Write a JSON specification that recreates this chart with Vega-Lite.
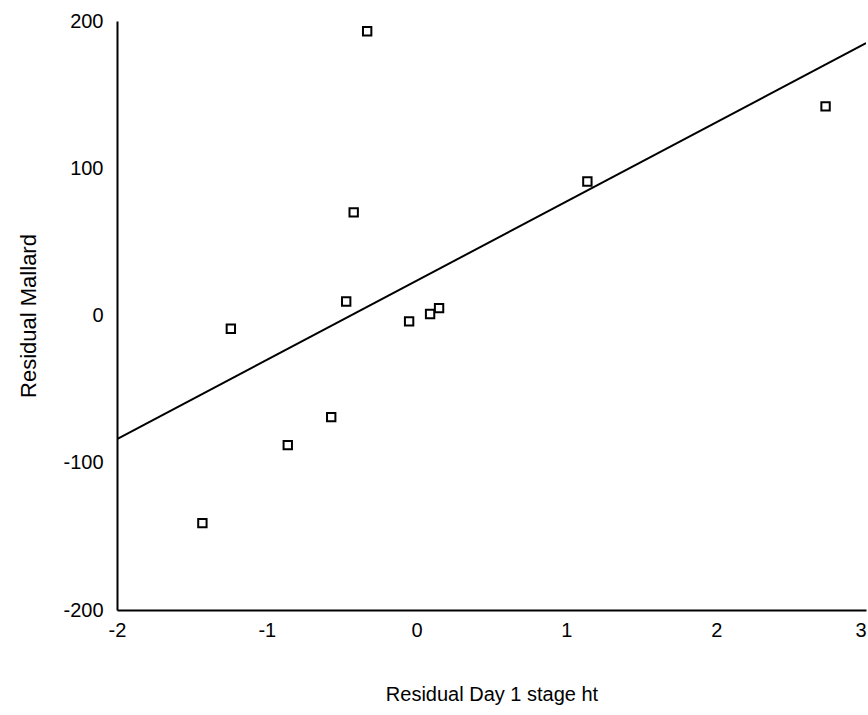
{
  "$schema": "https://vega.github.io/schema/vega-lite/v6.json",
  "width": 749,
  "height": 589,
  "autosize": {"type": "none"},
  "padding": {"left": 117, "top": 21, "right": 2, "bottom": 105},
  "background": "white",
  "config": {
    "view": {"stroke": null},
    "axis": {
      "grid": false,
      "ticks": false,
      "domainColor": "black",
      "domainWidth": 2,
      "labelFont": "Liberation Sans",
      "labelFontSize": 20,
      "labelColor": "black",
      "titleFont": "Liberation Sans",
      "titleFontSize": 20,
      "titleFontWeight": "normal",
      "titleColor": "black"
    }
  },
  "datasets": {
    "pts": [
      {"resid_day1": -0.33, "resid_mallard": 193},
      {"resid_day1": 2.73, "resid_mallard": 142},
      {"resid_day1": 1.14, "resid_mallard": 91},
      {"resid_day1": -0.42, "resid_mallard": 70},
      {"resid_day1": -0.47, "resid_mallard": 9.5},
      {"resid_day1": -1.24, "resid_mallard": -9},
      {"resid_day1": -0.05, "resid_mallard": -4},
      {"resid_day1": 0.09, "resid_mallard": 1},
      {"resid_day1": 0.15, "resid_mallard": 5},
      {"resid_day1": -0.57, "resid_mallard": -69},
      {"resid_day1": -0.86, "resid_mallard": -88},
      {"resid_day1": -1.43, "resid_mallard": -141}
    ],
    "fit": [
      {"resid_day1": -2, "resid_mallard": -84},
      {"resid_day1": 3, "resid_mallard": 185}
    ]
  },
  "layer": [
    {
      "data": {"name": "fit"},
      "mark": {"type": "line", "color": "black", "strokeWidth": 2, "clip": true},
      "encoding": {
        "x": {"field": "resid_day1", "type": "quantitative", "scale": {"domain": [-2, 3], "nice": false}, "axis": {"values": [-2, -1, 0, 1, 2, 3], "labelExpr": "toString(datum.value)", "labelPadding": 10, "labelAlign": {"condition": {"test": "datum.value == 3", "value": "right"}, "value": "center"}, "title": "Residual Day 1 stage ht", "titlePadding": 44, "labelFlush": false}},
        "y": {"field": "resid_mallard", "type": "quantitative", "scale": {"domain": [-200, 200], "nice": false}, "axis": {"values": [-200, -100, 0, 100, 200], "labelExpr": "toString(datum.value)", "labelPadding": 14, "title": "Residual Mallard", "titleFontSize": 22, "titlePadding": 22, "labelFlush": false}}
      }
    },
    {
      "data": {"name": "pts"},
      "mark": {"type": "point", "shape": "square", "filled": false, "color": "black", "strokeWidth": 2, "size": 70, "opacity": 1},
      "encoding": {
        "x": {"field": "resid_day1", "type": "quantitative"},
        "y": {"field": "resid_mallard", "type": "quantitative"}
      }
    }
  ]
}
